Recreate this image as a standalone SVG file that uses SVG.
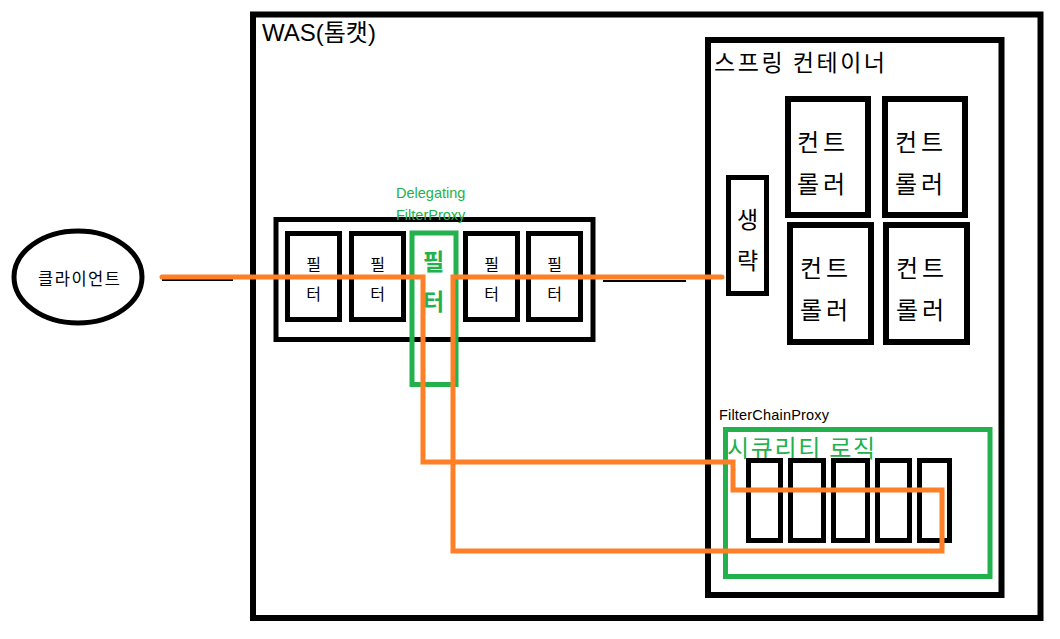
<svg xmlns="http://www.w3.org/2000/svg" width="1060" height="639" viewBox="0 0 1060 639">
<style>
.box{fill:none;stroke:#000;stroke-width:6}
.fbox{fill:none;stroke:#000;stroke-width:5}
.gbox{fill:none;stroke:#22b14c;stroke-width:5}
.kr{font-family:"Noto Sans CJK KR","Liberation Sans",sans-serif;fill:#000}
.lat{font-family:"Liberation Sans",Arial,sans-serif}
.green{fill:#22b14c}
.wire{fill:none;stroke:#ff7f27;stroke-width:5;stroke-linejoin:miter;stroke-linecap:round}
.thin{stroke:#000;stroke-width:2}
</style>
<rect width="1060" height="639" fill="#fff"/>
<g id="was">
<rect class="box" x="253" y="14.5" width="787.5" height="603.5"/>
<text x="262" y="41" font-size="24" class="kr" font-family="Liberation Sans, Noto Sans CJK KR, sans-serif" style="font-family:'Liberation Sans','Noto Sans CJK KR',sans-serif">WAS(톰캣)</text>
</g>
<g id="client">
<ellipse cx="78" cy="277" rx="64" ry="46" fill="#fff" stroke="#000" stroke-width="5"/>
<text x="79" y="285" font-size="16.5" class="kr" text-anchor="middle" textLength="82">클라이언트</text>
</g>
<g id="filter-chain">
<rect class="fbox" x="276" y="219.5" width="317" height="120"/>
</g>
<g id="filter1">
<rect class="fbox" x="287.5" y="233.5" width="52" height="86"/>
<text x="313.5" y="270" font-size="16" class="kr" text-anchor="middle">필</text>
<text x="313.5" y="300" font-size="16" class="kr" text-anchor="middle">터</text>
</g>
<g id="filter2">
<rect class="fbox" x="351.5" y="233.5" width="52" height="86"/>
<text x="377.5" y="270" font-size="16" class="kr" text-anchor="middle">필</text>
<text x="377.5" y="300" font-size="16" class="kr" text-anchor="middle">터</text>
</g>
<g id="filter3">
<rect class="fbox" x="465.5" y="233.5" width="52" height="86"/>
<text x="491.5" y="270" font-size="16" class="kr" text-anchor="middle">필</text>
<text x="491.5" y="300" font-size="16" class="kr" text-anchor="middle">터</text>
</g>
<g id="filter4">
<rect class="fbox" x="528.5" y="233.5" width="52" height="86"/>
<text x="554.5" y="270" font-size="16" class="kr" text-anchor="middle">필</text>
<text x="554.5" y="300" font-size="16" class="kr" text-anchor="middle">터</text>
</g>
<g id="delegating-filter-proxy">
<rect class="gbox" x="412" y="233" width="44" height="151.5"/>
<text x="433.5" y="270" font-size="23" font-weight="bold" class="kr green" text-anchor="middle" style="fill:#22b14c">필</text>
<text x="433.5" y="310" font-size="23" font-weight="bold" class="kr green" text-anchor="middle" style="fill:#22b14c">터</text>
<text x="396" y="198" font-size="14.5" class="lat green">Delegating</text>
<text x="396" y="220" font-size="14.5" class="lat green">FilterProxy</text>
</g>
<g id="spring-container">
<rect class="box" x="708" y="40" width="293.5" height="555"/>
<text x="714" y="71" font-size="23" class="kr" textLength="171">스프링 컨테이너</text>
</g>
<g id="omitted">
<rect class="fbox" x="728.5" y="177.5" width="38" height="116"/>
<text x="747.5" y="228" font-size="23" class="kr" text-anchor="middle">생</text>
<text x="747.5" y="269" font-size="23" class="kr" text-anchor="middle">략</text>
</g>
<g id="controller1">
<rect class="box" x="788" y="99" width="80" height="116"/>
<text x="797" y="151" font-size="24" class="kr" textLength="48">컨트</text>
<text x="797" y="193" font-size="24" class="kr" textLength="48">롤러</text>
</g>
<g id="controller2">
<rect class="box" x="885" y="99" width="80" height="116"/>
<text x="895" y="151" font-size="24" class="kr" textLength="48">컨트</text>
<text x="895" y="193" font-size="24" class="kr" textLength="48">롤러</text>
</g>
<g id="controller3">
<rect class="box" x="790" y="225" width="81" height="117"/>
<text x="800" y="277" font-size="24" class="kr" textLength="48">컨트</text>
<text x="800" y="319" font-size="24" class="kr" textLength="48">롤러</text>
</g>
<g id="controller4">
<rect class="box" x="886" y="225" width="81" height="117"/>
<text x="896" y="277" font-size="24" class="kr" textLength="48">컨트</text>
<text x="896" y="319" font-size="24" class="kr" textLength="48">롤러</text>
</g>
<g id="filter-chain-proxy">
<text x="719" y="420" font-size="14.5" class="lat" textLength="110">FilterChainProxy</text>
<rect class="gbox" x="725.5" y="429.5" width="264.5" height="147"/>
<text x="727" y="457" font-size="24" class="kr green" style="fill:#22b14c" textLength="148">시큐리티 로직</text>
</g>
<g id="security-filters">
<rect class="fbox" x="748.5" y="460.5" width="32" height="80"/>
<rect class="fbox" x="790.5" y="460.5" width="33" height="80"/>
<rect class="fbox" x="833.5" y="460.5" width="34" height="80"/>
<rect class="fbox" x="877.5" y="460.5" width="32" height="80"/>
<rect class="fbox" x="919.5" y="460.5" width="30" height="80"/>
</g>
<g id="connectors">
<line class="thin" x1="162" y1="280" x2="233" y2="280"/>
<line class="thin" x1="603" y1="281" x2="686" y2="281"/>
<path class="wire" d="M162 277 H423 V462 H733 V490 H942 V551 H453 V277 H722"/>
</g>
</svg>
